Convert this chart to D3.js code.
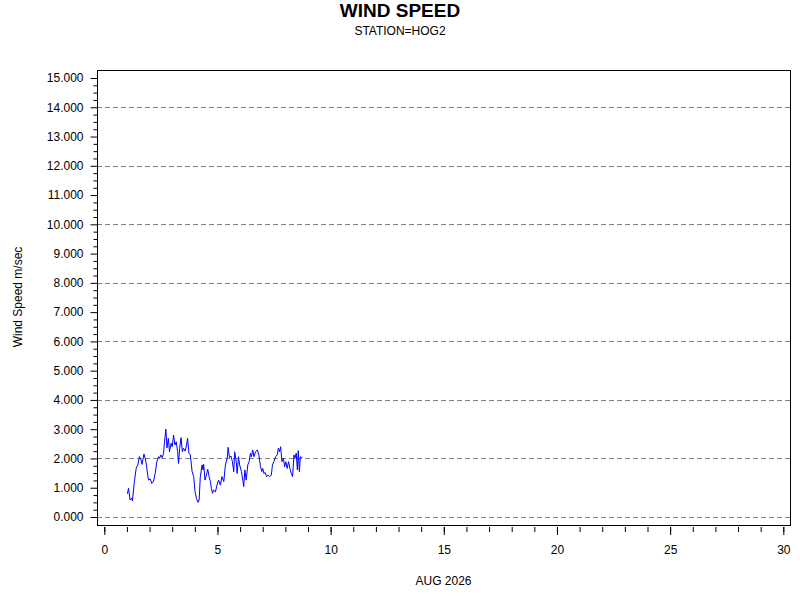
<!DOCTYPE html>
<html>
<head>
<meta charset="utf-8">
<script src="https://cdn.jsdelivr.net/npm/d3@7"></script>
<style>
  body { margin: 0; background: #fff; }
  svg text { font-family: "Liberation Sans", Arial, sans-serif; }
</style>
</head>
<body>
<svg width="800" height="600"></svg>
<script>
// day of month (decimal) and wind speed in m/sec
const days = [
  1.02, 1.07, 1.14, 1.22, 1.24, 1.33, 1.41, 1.48, 1.55, 1.62, 1.67, 1.75, 1.81, 1.86, 1.95,
  2.03, 2.10, 2.17, 2.25, 2.32, 2.40, 2.44, 2.50, 2.56, 2.62, 2.66, 2.72, 2.77, 2.83, 2.88,
  2.95, 3.00, 3.06, 3.12, 3.18, 3.24, 3.28, 3.33, 3.39, 3.45, 3.50, 3.57, 3.62, 3.68, 3.74,
  3.80, 3.88, 3.95, 4.01, 4.07, 4.14, 4.19, 4.24, 4.32, 4.36, 4.39, 4.45, 4.51, 4.57, 4.63,
  4.69, 4.73, 4.78, 4.83, 4.91, 4.98, 5.05, 5.13, 5.20, 5.28, 5.35, 5.43, 5.47, 5.53, 5.60,
  5.66, 5.72, 5.76, 5.83, 5.87, 5.93, 5.98, 6.06, 6.12, 6.16, 6.21, 6.27, 6.34, 6.40, 6.46,
  6.50, 6.56, 6.61, 6.68, 6.76, 6.83, 6.90, 6.96, 7.00, 7.05, 7.11, 7.17, 7.23, 7.30, 7.38,
  7.43, 7.49, 7.57, 7.64, 7.69, 7.74, 7.79, 7.85, 7.91, 7.97, 8.02, 8.08, 8.14, 8.20, 8.26,
  8.32, 8.38, 8.42, 8.48, 8.53, 8.57, 8.62, 8.66, 8.72, 8.76
];
const speeds = [
  0.79, 0.98, 0.58, 0.65, 0.55, 1.21, 1.67, 1.78, 2.06, 1.95, 1.80, 2.15, 2.00, 1.78, 1.26,
  1.30, 1.15, 1.21, 1.49, 1.89, 2.06, 2.00, 2.12, 2.03, 2.18, 2.57, 3.00, 2.36, 2.69, 2.23,
  2.52, 2.40, 2.80, 2.46, 2.57, 2.23, 1.83, 2.35, 2.71, 2.23, 2.35, 2.25, 2.40, 2.69, 2.18,
  2.12, 1.55, 1.38, 0.86, 0.64, 0.50, 0.58, 1.35, 1.78, 1.61, 1.80, 1.26, 1.43, 1.63, 1.38,
  1.21, 0.98, 0.81, 0.92, 0.86, 1.09, 1.26, 1.09, 1.38, 1.21, 1.78, 2.00, 2.38, 2.03, 2.08,
  1.89, 1.55, 2.23, 1.89, 1.49, 2.06, 1.78, 1.55, 1.26, 1.04, 1.61, 1.26, 1.78, 1.89, 2.18,
  2.06, 2.29, 2.06, 2.23, 2.29, 2.12, 1.72, 1.55, 1.66, 1.49, 1.52, 1.38, 1.43, 1.38, 1.43,
  1.78, 1.89, 2.06, 2.12, 2.35, 2.23, 2.40, 1.89, 2.00, 1.72, 1.89, 1.66, 1.89, 1.66, 1.49,
  1.38, 2.12, 2.00, 2.18, 1.61, 2.27, 1.55, 2.06, 2.03, 2.05
];
const yTicks = d3.range(0, 16, 1);
const gridValues = d3.range(0, 15, 2);
const xTicks = [0, 5, 10, 15, 20, 25, 30];

const svg = d3.select("svg");

const frame = { left: 97, right: 790, top: 70, bottom: 525 };

const x = d3.scaleLinear().domain([0, 30]).range([104.3, 783.3]);
const y = d3.scaleLinear().domain([0, 15]).range([517, 78]);

// grid lines (every 2 m/sec)
svg.append("g")
    .selectAll("line")
    .data(gridValues)
    .enter()
    .append("line")
    .attr("x1", frame.left)
    .attr("x2", frame.right)
    .attr("y1", d => Math.round(y(d)) + 0.5)
    .attr("y2", d => Math.round(y(d)) + 0.5)
    .attr("stroke", "#808080")
    .attr("stroke-width", 1)
    .attr("stroke-dasharray", "5,3");

// frame
svg.append("rect")
    .attr("x", frame.left + 0.5)
    .attr("y", frame.top + 0.5)
    .attr("width", frame.right - frame.left)
    .attr("height", frame.bottom - frame.top)
    .attr("fill", "none")
    .attr("stroke", "black")
    .attr("stroke-width", 1);

// y axis
const yMinor = d3.range(0, 15.001, 0.25).filter(v => Math.abs(v - Math.round(v)) > 0.01);
svg.append("g")
    .attr("transform", `translate(${frame.left + 0.5},0)`)
    .call(d3.axisLeft(y).tickValues(yMinor).tickSize(4).tickFormat(""))
    .call(g => g.select(".domain").remove());
svg.append("g")
    .attr("transform", `translate(${frame.left + 0.5},0)`)
    .call(d3.axisLeft(y).tickValues(yTicks).tickSize(7).tickPadding(7).tickFormat(d3.format(".3f")))
    .call(g => g.select(".domain").remove())
    .call(g => g.selectAll("text").attr("font-size", 12).attr("fill", "black").style("font-family", "Liberation Sans, Arial, sans-serif"));

// x axis
svg.append("g")
    .attr("transform", "translate(0,527)")
    .call(d3.axisBottom(x).tickValues(d3.range(0, 31, 1)).tickSize(5).tickFormat(""))
    .call(g => g.select(".domain").remove());
svg.append("g")
    .attr("transform", "translate(0,527)")
    .call(d3.axisBottom(x).tickValues(xTicks).tickSize(8).tickPadding(10).tickFormat(d3.format("d")))
    .call(g => g.select(".domain").remove())
    .call(g => g.selectAll("text").attr("font-size", 12).attr("fill", "black").style("font-family", "Liberation Sans, Arial, sans-serif"));

svg.selectAll(".tick line").attr("stroke", "black");

// data line
const line = d3.line()
    .x((d, i) => x(days[i]))
    .y(d => y(d));

svg.append("path")
    .datum(speeds)
    .attr("fill", "none")
    .attr("stroke", "#0000ff")
    .attr("stroke-width", 1)
    .attr("d", line);

// titles
svg.append("text")
    .attr("x", 400)
    .attr("y", 17)
    .attr("text-anchor", "middle")
    .attr("font-size", 19)
    .attr("font-weight", "bold")
    .text("WIND SPEED");

svg.append("text")
    .attr("x", 400)
    .attr("y", 35)
    .attr("text-anchor", "middle")
    .attr("font-size", 12)
    .text("STATION=HOG2");

svg.append("text")
    .attr("x", (frame.left + frame.right) / 2)
    .attr("y", 585)
    .attr("text-anchor", "middle")
    .attr("font-size", 12)
    .text("AUG 2026");

svg.append("text")
    .attr("transform", "translate(22,297) rotate(-90)")
    .attr("text-anchor", "middle")
    .attr("font-size", 12)
    .text("Wind Speed m/sec");
</script>
</body>
</html>
